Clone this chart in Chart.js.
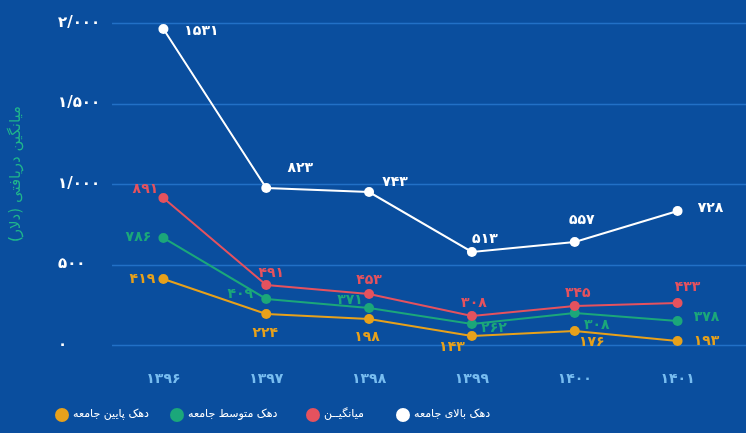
<!DOCTYPE html>
<html lang="fa">
<head>
<meta charset="utf-8">
<title>میانگین دریافتی</title>
<script src="https://cdn.jsdelivr.net/npm/chart.js@4.4.1/dist/chart.umd.min.js"></script>
<style>
  html, body { margin: 0; padding: 0; background: #0a4e9e; }
  #chart { display: block; }
</style>
</head>
<body>
<canvas id="chart" width="746" height="433"></canvas>
<script>
// years on the x axis
const categories = ["۱۳۹۶", "۱۳۹۷", "۱۳۹۸", "۱۳۹۹", "۱۴۰۰", "۱۴۰۱"];

// point heights as drawn in the picture (dollars)
const topDecile = [1963, 975, 950, 578, 640, 832];
const average = [913, 373, 317, 180, 242, 261];
const middleDecile = [665, 286, 230, 130, 199, 149];
const bottomDecile = [410, 193, 161, 56, 87, 25];

// numbers printed next to the points
const topLabels = ["۱۵۳۱", "۸۲۳", "۷۴۳", "۵۱۳", "۵۵۷", "۷۲۸"];
const averageLabels = ["۸۹۱", "۴۹۱", "۴۵۳", "۳۰۸", "۳۴۵", "۴۳۳"];
const middleLabels = ["۷۸۶", "۴۰۹", "۳۷۱", "۲۶۲", "۳۰۸", "۳۷۸"];
const bottomLabels = ["۴۱۹", "۲۲۴", "۱۹۸", "۱۴۳", "۱۷۶", "۱۹۳"];

const yTickLabels = ["۰", "۵۰۰", "۱/۰۰۰", "۱/۵۰۰", "۲/۰۰۰"];
const seriesNames = ["دهک بالای جامعه", "میانگیــن", "دهک متوسط جامعه", "دهک پایین جامعه"];

const FONT = "'DejaVu Sans', sans-serif";
const colors = ["#ffffff", "#e5525e", "#1ba77a", "#e7a11b"];

// label offsets from each point [dx, dy]
const labelOffsets = [
  [[38, 2], [34, -20], [26, -10], [13, -13], [7, -22], [33, -3]],
  [[-18, -9], [5, -12], [0, -14], [2, -13], [3, -13], [10, -16]],
  [[-25, -1], [-26, -5], [-19, -8], [22, 4], [22, 12], [29, -4]],
  [[-21, 0], [-1, 19], [-2, 18], [-20, 11], [17, 11], [29, 0]]
];

const gridLines = {
  id: "gridLines",
  beforeDatasetsDraw(chart) {
    const { ctx, chartArea, scales } = chart;
    ctx.save();
    ctx.strokeStyle = "#2270c6";
    ctx.lineWidth = 1.5;
    scales.y.ticks.forEach((t) => {
      const y = Math.round(scales.y.getPixelForValue(t.value)) + 0.5;
      ctx.beginPath();
      ctx.moveTo(chartArea.left, y);
      ctx.lineTo(chart.width, y);
      ctx.stroke();
    });
    ctx.restore();
  }
};

const pointLabels = {
  id: "pointLabels",
  afterDatasetsDraw(chart) {
    const { ctx } = chart;
    ctx.save();
    ctx.font = "bold 14px " + FONT;
    ctx.textAlign = "center";
    ctx.textBaseline = "middle";
    chart.data.datasets.forEach((ds, di) => {
      const meta = chart.getDatasetMeta(di);
      meta.data.forEach((pt, i) => {
        const [dx, dy] = labelOffsets[di][i];
        ctx.fillStyle = colors[di];
        ctx.fillText(ds.pointText[i], pt.x + dx, pt.y + dy);
      });
    });
    ctx.restore();
  }
};

// y axis title and the legend row
const extras = {
  id: "extras",
  afterDraw(chart) {
    const { ctx, chartArea } = chart;
    ctx.save();
    ctx.direction = "rtl";
    ctx.font = "15px " + FONT;
    ctx.fillStyle = "#1fb58c";
    ctx.textAlign = "center";
    ctx.textBaseline = "middle";
    ctx.translate(16, (chartArea.top + chartArea.bottom) / 2 - 10);
    ctx.rotate(-Math.PI / 2);
    ctx.fillText("میانگین دریافتی (دلار)", 0, 0);
    ctx.restore();

    const dotX = [62, 177, 313, 403];
    const order = [3, 2, 1, 0];
    ctx.save();
    ctx.font = "11px " + FONT;
    ctx.textBaseline = "middle";
    ctx.textAlign = "left";
    order.forEach((di, k) => {
      ctx.fillStyle = colors[di];
      ctx.beginPath();
      ctx.arc(dotX[k], 415, 7, 0, Math.PI * 2);
      ctx.fill();
      ctx.fillStyle = "#ffffff";
      ctx.fillText(seriesNames[di], dotX[k] + 11, 414);
    });
    ctx.restore();
  }
};

function makeSet(name, data, text, color) {
  return {
    label: name,
    data: data,
    pointText: text,
    borderColor: color,
    backgroundColor: color,
    pointBackgroundColor: color,
    borderWidth: 2,
    pointRadius: 5,
    pointBorderWidth: 0,
    pointHoverRadius: 5,
    tension: 0,
    clip: false
  };
}

new Chart(document.getElementById("chart"), {
  type: "line",
  data: {
    labels: categories,
    datasets: [
      makeSet(seriesNames[0], topDecile, topLabels, colors[0]),
      makeSet(seriesNames[1], average, averageLabels, colors[1]),
      makeSet(seriesNames[2], middleDecile, middleLabels, colors[2]),
      makeSet(seriesNames[3], bottomDecile, bottomLabels, colors[3])
    ]
  },
  options: {
    responsive: false,
    animation: false,
    devicePixelRatio: 1,
    layout: { padding: { left: 58, right: 17, top: 23, bottom: 45 } },
    plugins: {
      legend: { display: false },
      tooltip: { enabled: false }
    },
    scales: {
      x: {
        offset: true,
        grid: { display: false, drawTicks: false },
        border: { display: false },
        ticks: {
          color: "#78bdf0",
          padding: 26,
          font: { family: FONT, size: 14, weight: "bold" }
        },
        afterFit: (s) => { s.height = 43; }
      },
      y: {
        min: 0,
        max: 2000,
        grid: { display: false, drawTicks: false },
        border: { display: false },
        ticks: {
          stepSize: 500,
          crossAlign: "far",
          color: "#ffffff",
          font: { family: FONT, size: 15, weight: "bold" },
          callback: (v, i) => yTickLabels[i]
        },
        afterFit: (s) => { s.width = 54; }
      }
    }
  },
  plugins: [gridLines, pointLabels, extras]
});
</script>
</body>
</html>
